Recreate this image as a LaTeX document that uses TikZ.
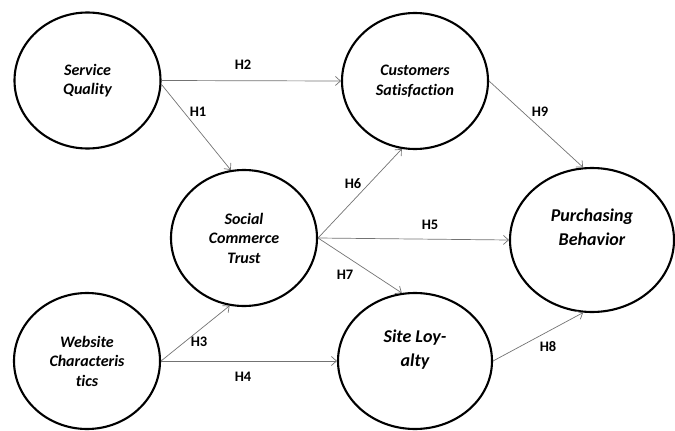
\documentclass[tikz,border=0pt]{standalone}
\usepackage{fontspec}
\setmainfont{Carlito}[Ligatures=NoCommon]
\usetikzlibrary{shapes.geometric,arrows.meta}
\tikzset{
  construct/.style={ellipse, draw=black, line width=2.1pt, inner sep=0pt,
    minimum width=146pt, minimum height=136pt, align=center,
    font=\fontsize{16}{19.5}\selectfont\bfseries\itshape},
  bigtext/.style={align=center, inner sep=0pt,
    font=\fontsize{18}{24}\selectfont\bfseries\itshape},
  path/.style={draw=black!55, line width=0.7pt, -{Straight Barb[length=5pt,width=9pt]}},
  hyp/.style={font=\fontsize{14.5}{17}\selectfont\bfseries, inner sep=1pt}
}
\begin{document}
\begin{tikzpicture}[x=1pt,y=-1pt]
\useasboundingbox (0,0) rectangle (675,431);
\node[construct] (sq) at (87.5,80.5) {Service\\Quality};
\node[construct] (cs) at (415,81) {Customers\\Satisfaction};
\node[construct] (sct) at (244,238) {Social\\Commerce\\Trust};
\node[construct] (wc) at (87,361) {Website\\Characteris\\tics};
\node[construct, minimum width=154pt,
  label={[bigtext, yshift=11pt]center:{Site Loy-\\alty}}] (sl) at (415,361) {};
\node[construct, minimum width=164pt, minimum height=144pt,
  label={[bigtext, yshift=13pt]center:{Purchasing\\Behavior}}] (pb) at (592,240) {};

\draw[path] (sq.east) -- (cs.west);
\draw[path] (sq.-3) -- (sct.101);
\draw[path] (cs.east) -- (pb.97);
\draw[path] (sct.east) -- (cs.259);
\draw[path] (sct.east) -- (pb.west);
\draw[path] (sct.east) -- (sl.101);
\draw[path] (wc.east) -- (sct.258);
\draw[path] (wc.east) -- (sl.west);
\draw[path] (sl.east) -- (pb.263);

\node[hyp] (h2) at (243,65) {H2};
\node[hyp] (h1) at (198,112) {H1};
\node[hyp] (h9) at (540,112) {H9};
\node[hyp] (h6) at (353,184) {H6};
\node[hyp] (h5) at (430,225) {H5};
\node[hyp] (h7) at (345,275) {H7};
\node[hyp] (h3) at (199,342) {H3};
\node[hyp] (h4) at (243,377) {H4};
\node[hyp] (h8) at (548,347) {H8};
\end{tikzpicture}
\end{document}
